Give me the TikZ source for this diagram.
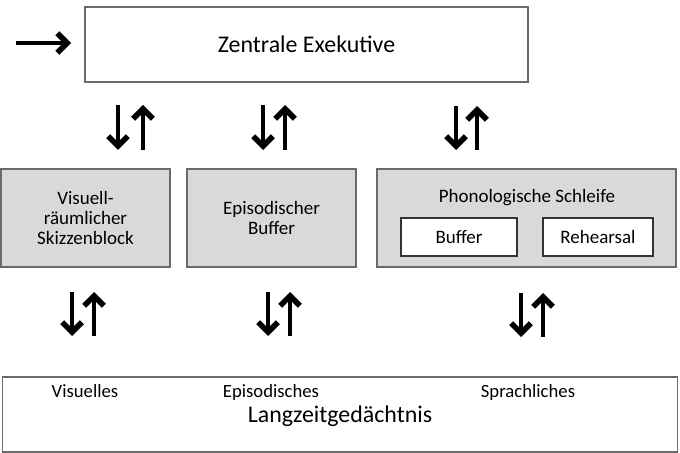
\documentclass[tikz,border=0pt]{standalone}
\usepackage{fontspec}
\setmainfont{Carlito}
\usetikzlibrary{arrows.meta, positioning}
\definecolor{BoxGray}{HTML}{D9D9D9}
\definecolor{EdgeGray}{HTML}{6A6A6A}
\tikzset{
    every node/.style={font=\fontsize{13.5}{14.3}\selectfont},
    % White outer box
    plainbox/.style={
        rectangle,
        draw=EdgeGray,
        fill=white,
        line width=0.8pt,
        inner sep=0pt,
        align=center
    },
    % Grey component box
    component/.style={
        rectangle,
        draw=EdgeGray,
        fill=BoxGray,
        line width=0.8pt,
        minimum height=2.45cm,
        inner sep=0pt,
        align=center
    },
    % Inner white box
    subbox/.style={
        rectangle,
        draw=black!80,
        fill=white,
        line width=0.8pt,
        minimum height=0.95cm,
        inner sep=0pt,
        align=center
    },
    % Label inside the long-term memory box
    ltmlabel/.style={
        inner sep=0pt,
        anchor=base,
        font=\fontsize{13.3}{15}\selectfont
    },
    % Large title text
    title/.style={
        font=\fontsize{17}{20}\selectfont
    },
    % Arrow style
    arrow/.style={
        -{Straight Barb[length=7pt, width=14pt, line width=4pt 0]},
        line width=3pt,
        color=black
    }
}
\begin{document}
\begin{tikzpicture}[x=0.025cm, y=-0.025cm]
    \useasboundingbox (0,0) rectangle (680,453);

    % Central executive
    \node (ce) [plainbox, title, minimum width=11.075cm, minimum height=1.875cm]
        at (306.5,44.5) {Zentrale Exekutive};
    \coordinate (in) at (16,43);
    \draw [arrow, shorten >=0.33cm] (in) -- (ce.west |- in);

    % Slave systems
    \node (vs) [component, minimum width=4.225cm] at (85.5,218)
        {Visuell-\\räumlicher\\Skizzenblock};
    \node (eb) [component, minimum width=4.225cm] at (271.5,218)
        {Episodischer\\Buffer};
    \node (ps) [component, minimum width=7.475cm] at (526.5,218) {};
    \node (pstitle) at (527,198) {Phonologische Schleife};
    \node (buf) [subbox, minimum width=2.9cm] at (459,237) {Buffer};
    \node (reh) [subbox, minimum width=2.75cm] at (598,237) {Rehearsal};

    % Long-term memory
    \node (ltm) [plainbox, minimum width=16.85cm, minimum height=1.875cm] at (340,414.5) {};
    \node (vis) [ltmlabel] at (85,397) {Visuelles};
    \node (epi) [ltmlabel] at (271,397) {Episodisches};
    \node (spr) [ltmlabel] at (528,397) {Sprachliches};
    \node (ltmtitle) [title] at (340,416) {Langzeitgedächtnis};

    % Arrow pairs between the levels
    \foreach \i/\dx/\ux/\ya/\yb in {1/118/143/105/150, 2/263/285/105/150,
        3/456/477/106/150, 4/72/94/292/336, 5/268/290/292/336, 6/521/543/293/337}{
        \coordinate (dn\i top) at (\dx,\ya);
        \coordinate (dn\i bot) at (\dx,\yb);
        \coordinate (up\i top) at (\ux,\ya);
        \coordinate (up\i bot) at (\ux,\yb);
        \draw [arrow] (dn\i top) -- (dn\i bot);
        \draw [arrow] (up\i bot) -- (up\i top);
    }
\end{tikzpicture}
\end{document}
